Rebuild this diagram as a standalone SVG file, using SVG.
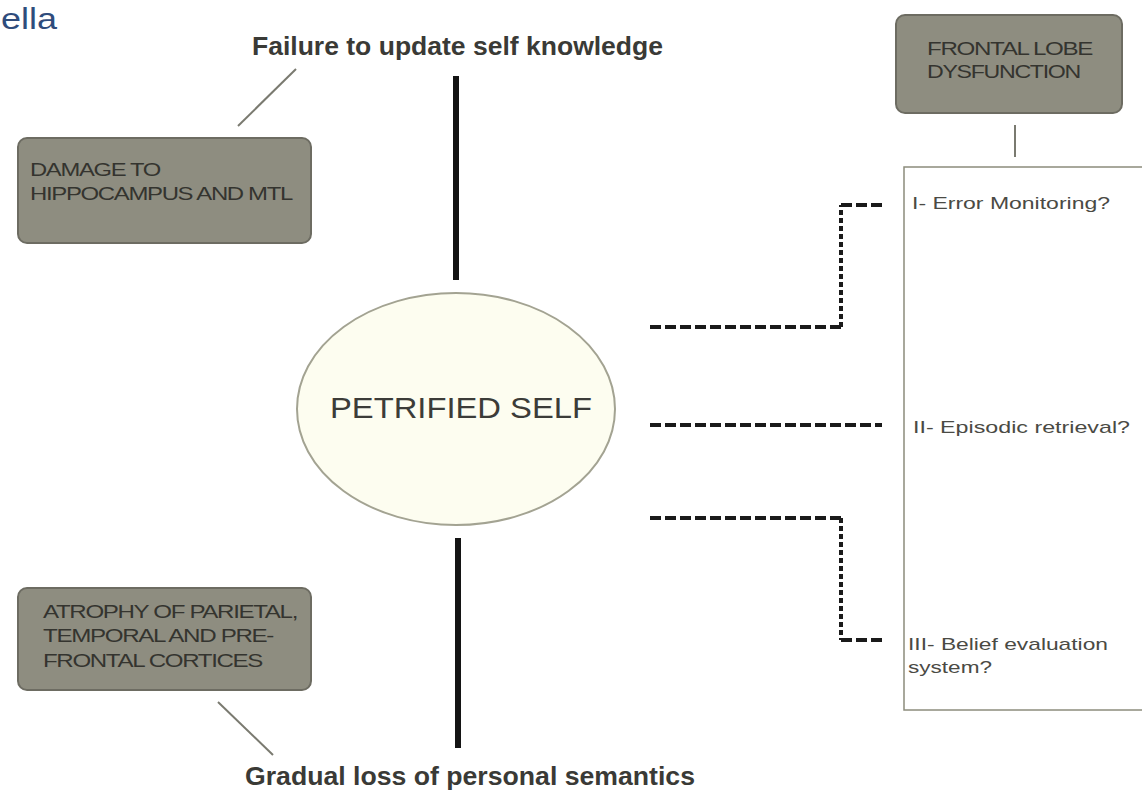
<svg xmlns="http://www.w3.org/2000/svg" width="1142" height="794" viewBox="0 0 1142 794">
  <style>
    .title { font-family: "Liberation Sans", Arial, sans-serif; font-size: 30px; fill: #2f4c7c; }
    .label { font-family: "Liberation Sans", Arial, sans-serif; font-size: 25px; font-weight: bold; fill: #3a3a36; }
    .boxtext { font-family: "Liberation Sans", Arial, sans-serif; font-size: 18px; fill: #34342f; letter-spacing: -1px; }
    .item { font-family: "Liberation Sans", Arial, sans-serif; font-size: 17px; fill: #4a4a44; }
    .center { font-family: "Liberation Sans", Arial, sans-serif; font-size: 30px; fill: #3c3c38; }
    .graybox { fill: #8e8d80; stroke: #6d6c62; stroke-width: 2; }
    .thin { stroke: #7a7a70; stroke-width: 2; fill: none; }
    .solid { stroke: #141414; stroke-width: 6; fill: none; }
    .dashH { stroke: #1a1a1a; stroke-width: 4; stroke-dasharray: 11 4; fill: none; }
    .dashV { stroke: #1a1a1a; stroke-width: 4; stroke-dasharray: 5 3; fill: none; }
  </style>
  <rect x="0" y="0" width="1142" height="794" fill="#ffffff"/>

  <text class="title" x="1" y="29" textLength="56" lengthAdjust="spacingAndGlyphs">ella</text>

  <g id="connectors">
    <line class="solid" x1="456" y1="76" x2="456" y2="280"/>
    <line class="solid" x1="458" y1="538" x2="458" y2="748"/>
    <line class="thin" x1="238" y1="126" x2="296" y2="69"/>
    <line class="thin" x1="218" y1="702" x2="273" y2="755"/>
    <line class="thin" x1="1015" y1="125" x2="1015" y2="157"/>
    <path class="dashH" d="M650 327 H841"/>
    <path class="dashV" d="M841 327 V205"/>
    <path class="dashH" d="M841 205 H882"/>
    <path class="dashH" d="M650 425 H882"/>
    <path class="dashH" d="M650 518 H841"/>
    <path class="dashV" d="M841 518 V640"/>
    <path class="dashH" d="M841 640 H882"/>
  </g>

  <g id="failure-label">
    <text class="label" x="252" y="55" textLength="411" lengthAdjust="spacingAndGlyphs">Failure to update self knowledge</text>
  </g>

  <g id="gradual-label">
    <text class="label" x="245" y="785" textLength="450" lengthAdjust="spacingAndGlyphs">Gradual loss of personal semantics</text>
  </g>

  <g id="damage-box">
    <rect class="graybox" x="18" y="138" width="293" height="105" rx="9"/>
    <text class="boxtext" x="30" y="176" textLength="130" lengthAdjust="spacingAndGlyphs">DAMAGE TO</text>
    <text class="boxtext" x="30" y="200" textLength="262" lengthAdjust="spacingAndGlyphs">HIPPOCAMPUS AND MTL</text>
  </g>

  <g id="atrophy-box">
    <rect class="graybox" x="18" y="588" width="293" height="102" rx="9"/>
    <text class="boxtext" x="43" y="618" textLength="254" lengthAdjust="spacingAndGlyphs">ATROPHY OF PARIETAL,</text>
    <text class="boxtext" x="43" y="642" textLength="230" lengthAdjust="spacingAndGlyphs">TEMPORAL AND PRE-</text>
    <text class="boxtext" x="43" y="667" textLength="219" lengthAdjust="spacingAndGlyphs">FRONTAL CORTICES</text>
  </g>

  <g id="frontal-box">
    <rect class="graybox" x="896" y="15" width="226" height="98" rx="9"/>
    <text class="boxtext" x="927" y="55" textLength="165" lengthAdjust="spacingAndGlyphs">FRONTAL LOBE</text>
    <text class="boxtext" x="927" y="78" textLength="153" lengthAdjust="spacingAndGlyphs">DYSFUNCTION</text>
  </g>

  <g id="petrified-self">
    <ellipse cx="456" cy="409" rx="159" ry="116" fill="#fdfdf0" stroke="#a3a392" stroke-width="2"/>
    <text class="center" x="330" y="418" textLength="262" lengthAdjust="spacingAndGlyphs">PETRIFIED SELF</text>
  </g>

  <g id="mechanisms-box">
    <rect x="904" y="167" width="250" height="543" fill="#ffffff" stroke="#8c8c7c" stroke-width="1.5"/>
    <text class="item" x="912" y="209" textLength="198" lengthAdjust="spacingAndGlyphs">I- Error Monitoring?</text>
    <text class="item" x="913" y="433" textLength="217" lengthAdjust="spacingAndGlyphs">II- Episodic retrieval?</text>
    <text class="item" x="908" y="650" textLength="200" lengthAdjust="spacingAndGlyphs">III- Belief evaluation</text>
    <text class="item" x="908" y="673" textLength="84" lengthAdjust="spacingAndGlyphs">system?</text>
  </g>
</svg>
